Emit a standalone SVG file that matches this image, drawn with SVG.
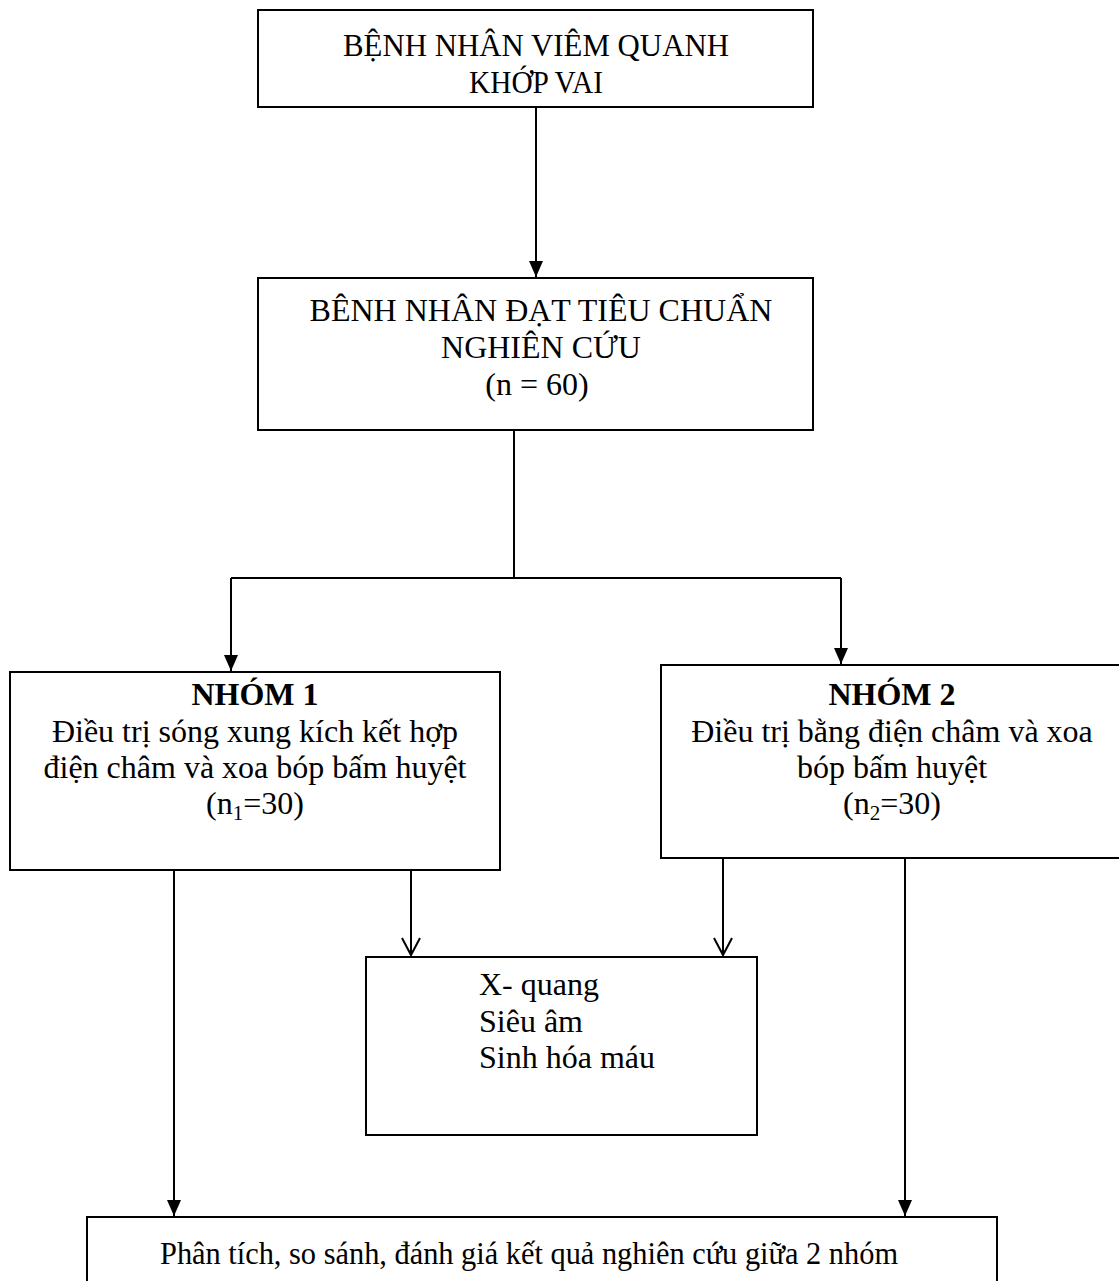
<svg xmlns="http://www.w3.org/2000/svg" width="1119" height="1281" viewBox="0 0 1119 1281">
<style>
.box{fill:#fff;stroke:#000;stroke-width:2}
.ln{fill:none;stroke:#000;stroke-width:2}
text{font-family:"Liberation Serif","Times New Roman",serif;font-size:32px;fill:#000}
.c{text-anchor:middle}
.b{font-weight:bold}
</style>
<defs>
<marker id="open" markerWidth="24" markerHeight="20" refX="19" refY="10" orient="auto" markerUnits="userSpaceOnUse" viewBox="0 0 24 20">
<path d="M2,1 L19,10 L2,19" fill="none" stroke="#000" stroke-width="2"/>
</marker>
<marker id="tri" markerWidth="17" markerHeight="16" refX="16" refY="8" orient="auto" markerUnits="userSpaceOnUse" viewBox="0 0 17 16">
<path d="M0,1 L16,8 L0,15 Z" fill="#000"/>
</marker>
</defs>
<g id="connectors">
<line class="ln" x1="536" y1="107" x2="536" y2="277" marker-end="url(#tri)"/>
<polyline class="ln" points="514,430 514,578"/>
<polyline class="ln" points="231,578 841,578"/>
<line class="ln" x1="231" y1="578" x2="231" y2="671" marker-end="url(#tri)"/>
<line class="ln" x1="841" y1="578" x2="841" y2="664" marker-end="url(#tri)"/>
<line class="ln" x1="174" y1="870" x2="174" y2="1216" marker-end="url(#tri)"/>
<line class="ln" x1="411" y1="870" x2="411" y2="955" marker-end="url(#open)"/>
<line class="ln" x1="723" y1="858" x2="723" y2="955" marker-end="url(#open)"/>
<line class="ln" x1="905" y1="858" x2="905" y2="1216" marker-end="url(#tri)"/>
</g>
<g id="node-benh-nhan">
<rect class="box" x="258" y="10" width="555" height="97"/>
<text class="c" x="536" y="56" font-size="31" textLength="386" lengthAdjust="spacingAndGlyphs">BỆNH NHÂN VIÊM QUANH</text>
<text class="c" x="536" y="93" font-size="31" textLength="134" lengthAdjust="spacingAndGlyphs">KHỚP VAI</text>
</g>
<g id="node-dat-tieu-chuan">
<rect class="box" x="258" y="278" width="555" height="152"/>
<text class="c" x="541" y="321">BÊNH NHÂN ĐẠT TIÊU CHUẨN</text>
<text class="c" x="541" y="358">NGHIÊN CỨU</text>
<text class="c" x="537" y="395">(n = 60)</text>
</g>
<g id="node-nhom1">
<rect class="box" x="10" y="672" width="490" height="198"/>
<text class="c b" x="255" y="705">NHÓM 1</text>
<text class="c" x="255" y="742">Điều trị sóng xung kích kết hợp</text>
<text class="c" x="255" y="778">điện châm và xoa bóp bấm huyệt</text>
<text class="c" x="255" y="814">(n<tspan font-size="21" dy="6">1</tspan><tspan dy="-6">=30)</tspan></text>
</g>
<g id="node-nhom2">
<rect class="box" x="661" y="665" width="464" height="193"/>
<text class="c b" x="892" y="705">NHÓM 2</text>
<text class="c" x="892" y="742">Điều trị bằng điện châm và xoa</text>
<text class="c" x="892" y="778">bóp bấm huyệt</text>
<text class="c" x="892" y="814">(n<tspan font-size="21" dy="6">2</tspan><tspan dy="-6">=30)</tspan></text>
</g>
<g id="node-xet-nghiem">
<rect class="box" x="366" y="957" width="391" height="178"/>
<text x="479" y="995">X- quang</text>
<text x="479" y="1032">Siêu âm</text>
<text x="479" y="1068">Sinh hóa máu</text>
</g>
<g id="node-phan-tich">
<rect class="box" x="87" y="1217" width="910" height="90"/>
<text class="c" x="529" y="1264" font-size="30.5" textLength="738" lengthAdjust="spacingAndGlyphs">Phân tích, so sánh, đánh giá kết quả nghiên cứu giữa 2 nhóm</text>
</g>
</svg>
